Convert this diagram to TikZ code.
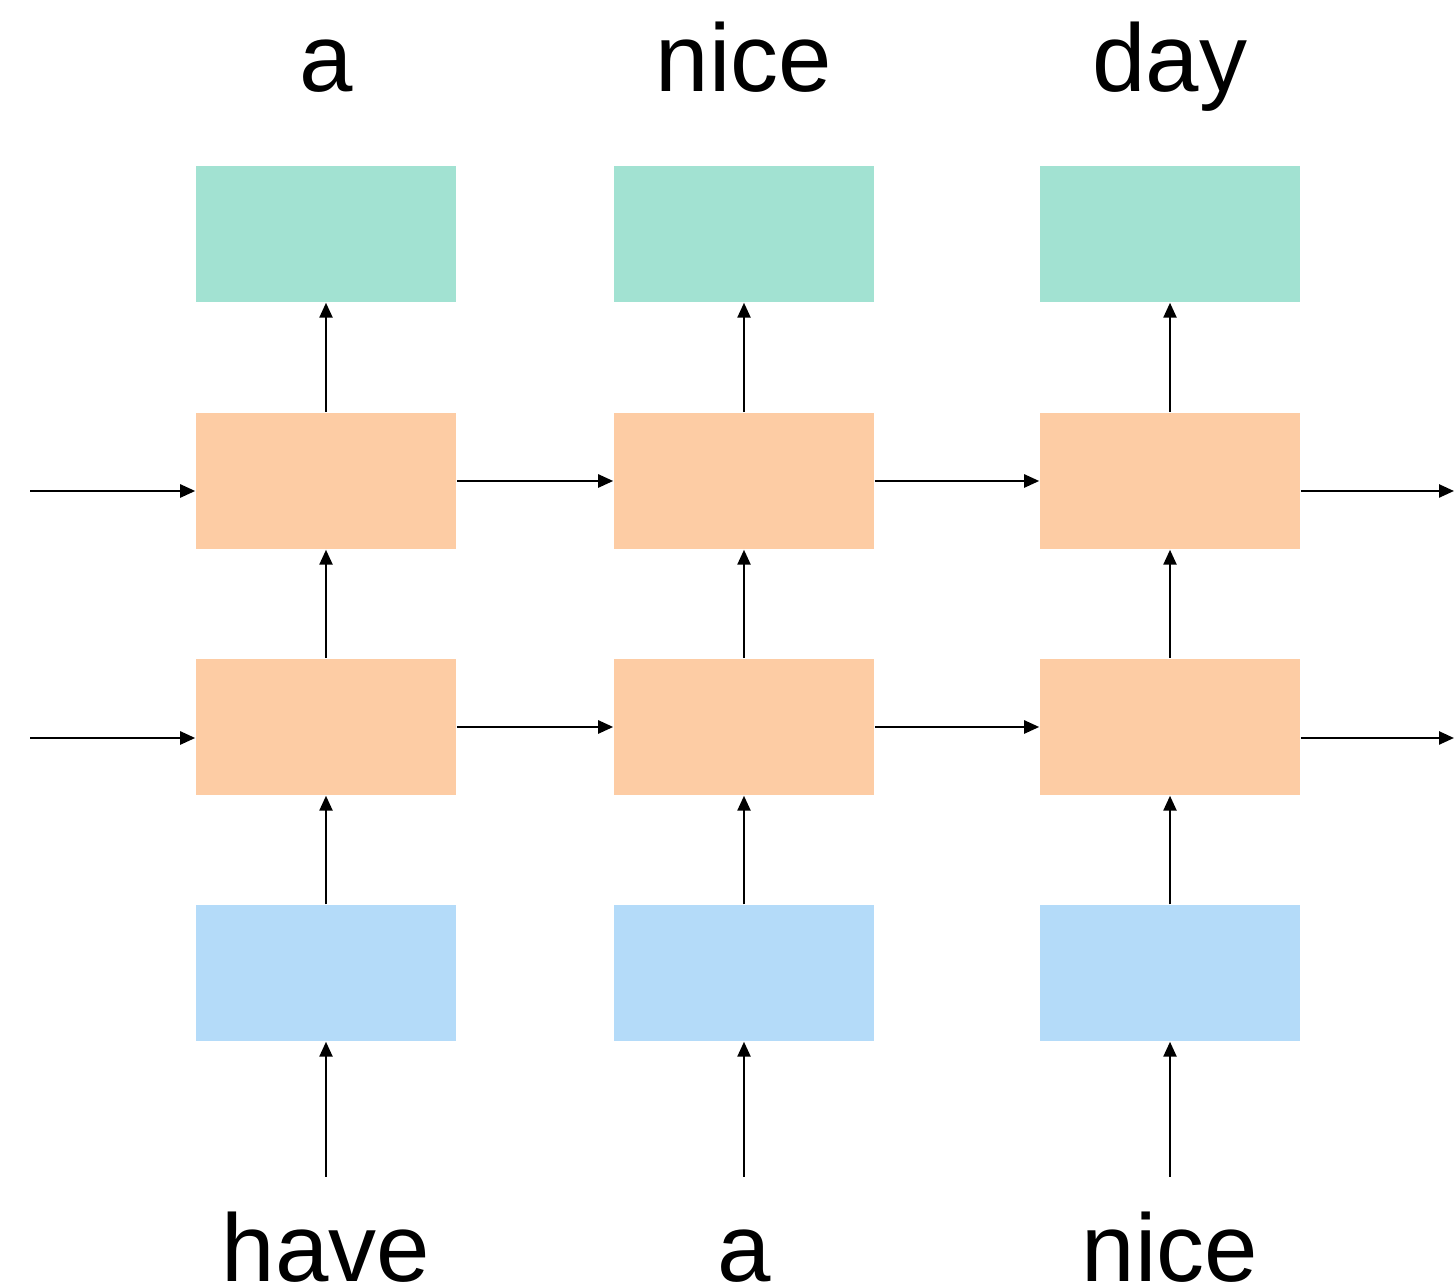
\documentclass[tikz,border=0pt]{standalone}
\usepackage{fontspec}
\setmainfont{Liberation Sans}
\usepackage{xcolor}
\usetikzlibrary{arrows.meta,positioning}

\definecolor{outgreen}{HTML}{A2E2D2}
\definecolor{cellorange}{HTML}{FDCCA4}
\definecolor{embblue}{HTML}{B4DBF9}

\begin{document}
\begin{tikzpicture}[x=0.01cm, y=-0.01cm,
    box/.style={minimum width=2.6cm, minimum height=1.36cm, inner sep=0pt},
    word/.style={font=\fontsize{27.3pt}{33pt}\selectfont, anchor=base, inner sep=0pt},
    link/.style={-{Triangle[length=0.15cm,width=0.13cm]}, line width=0.7pt}]
            \useasboundingbox (0,0) rectangle (1454,1286);

            % output words
            \node (top1) [word] at (326,92) {a};
            \node (top2) [word] at (744,92) {nice};
            \node (top3) [word] at (1170,92) {day};

            % output layer
            \node (out1) [box, fill=outgreen] at (326,234) {};
            \node (out2) [box, fill=outgreen] at (744,234) {};
            \node (out3) [box, fill=outgreen] at (1170,234) {};

            % upper recurrent layer
            \node (up1) [box, fill=cellorange] at (326,481) {};
            \node (up2) [box, fill=cellorange] at (744,481) {};
            \node (up3) [box, fill=cellorange] at (1170,481) {};

            % lower recurrent layer
            \node (low1) [box, fill=cellorange] at (326,727) {};
            \node (low2) [box, fill=cellorange] at (744,727) {};
            \node (low3) [box, fill=cellorange] at (1170,727) {};

            % embeddings
            \node (emb1) [box, fill=embblue] at (326,973) {};
            \node (emb2) [box, fill=embblue] at (744,973) {};
            \node (emb3) [box, fill=embblue] at (1170,973) {};

            % input words
            \node (bot1) [word] at (326,1281) {have};
            \node (bot2) [word] at (744,1281) {a};
            \node (bot3) [word] at (1170,1281) {nice};

            % free ends
            \coordinate (src1) at (326,1177);
            \coordinate (src2) at (744,1177);
            \coordinate (src3) at (1170,1177);
            \coordinate (upin) at (30,491);
            \coordinate (lowin) at (30,738);
            \coordinate (upout) at (1454,491);
            \coordinate (lowout) at (1454,738);

            \draw[link] (src1) -- (emb1);
            \draw[link] (src2) -- (emb2);
            \draw[link] (src3) -- (emb3);

            \draw[link] (emb1) -- (low1);
            \draw[link] (emb2) -- (low2);
            \draw[link] (emb3) -- (low3);

            \draw[link] (low1) -- (up1);
            \draw[link] (low2) -- (up2);
            \draw[link] (low3) -- (up3);

            \draw[link] (up1) -- (out1);
            \draw[link] (up2) -- (out2);
            \draw[link] (up3) -- (out3);

            \draw[link] (upin) -- (upin -| up1.west);
            \draw[link] (up1) -- (up2);
            \draw[link] (up2) -- (up3);
            \draw[link] (upout -| up3.east) -- (upout);

            \draw[link] (lowin) -- (lowin -| low1.west);
            \draw[link] (low1) -- (low2);
            \draw[link] (low2) -- (low3);
            \draw[link] (lowout -| low3.east) -- (lowout);
        \end{tikzpicture}
\end{document}
